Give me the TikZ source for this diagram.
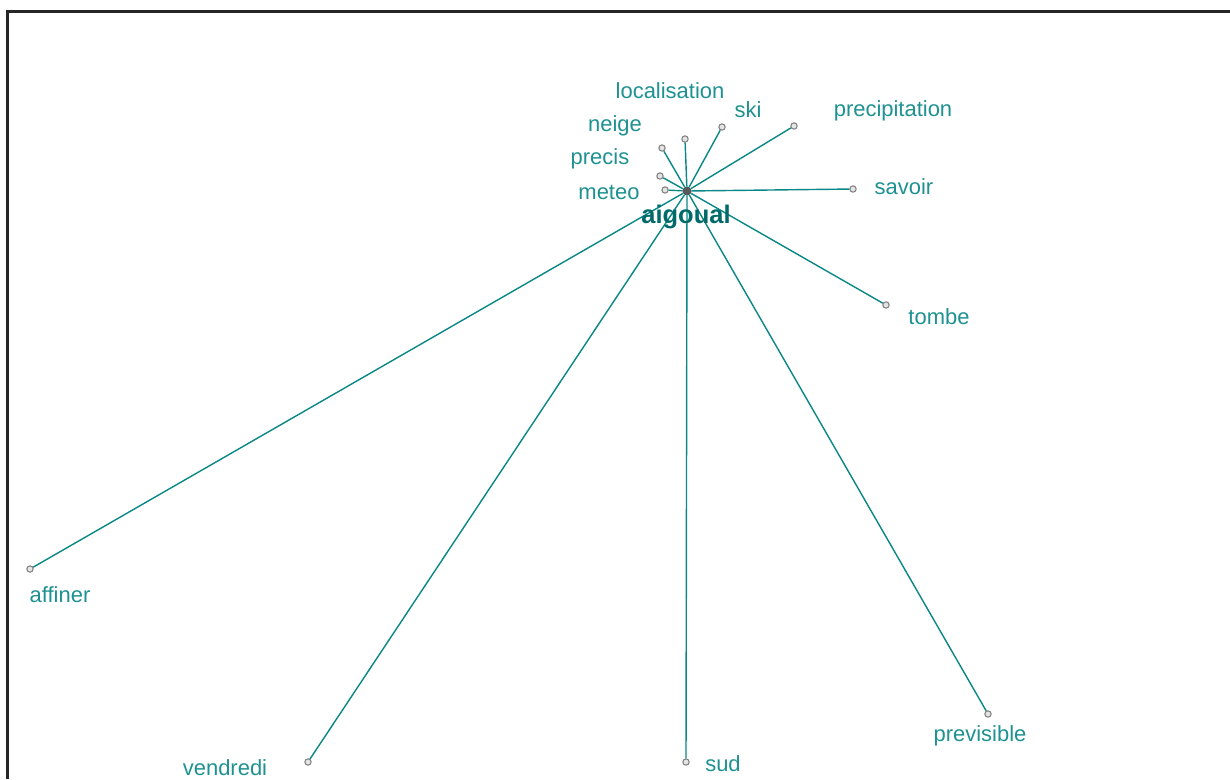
\documentclass[tikz,border=0pt]{standalone}
\usepackage{fontspec}
\setmainfont{Liberation Sans}
\definecolor{linkteal}{RGB}{10,135,135}
\definecolor{wordteal}{RGB}{30,145,145}
\definecolor{hubteal}{RGB}{0,105,105}

\begin{document}
\begin{tikzpicture}[
    x=0.02cm, y=-0.02cm,
    word/.style={
        text=wordteal,
        anchor=base,
        inner sep=0pt,
        font=\fontsize{12.5}{14}\selectfont
    },
    hubword/.style={
        text=hubteal,
        anchor=base,
        inner sep=0pt,
        font=\fontsize{14.5}{16}\selectfont\bfseries
    },
    leaf/.style={
        circle,
        draw=gray,
        fill=gray!20,
        line width=0.6pt,
        inner sep=0pt,
        minimum size=3.6pt
    },
    hub/.style={
        circle,
        draw=black!70,
        fill=black!65,
        inner sep=0pt,
        minimum size=4.6pt
    },
    link/.style={linkteal, line width=0.8pt}
]

\useasboundingbox (0,0) rectangle (1230,779);
\draw[black!85, line width=1.2pt] (7.5,779) -- (7.5,11.5) -- (1230,11.5);

% leaves
\node[leaf] (localisation) at (685,139) {};
\node[leaf] (ski) at (722,127) {};
\node[leaf] (precipitation) at (794,126) {};
\node[leaf] (neige) at (662,148) {};
\node[leaf] (precis) at (660,176) {};
\node[leaf] (meteo) at (665,190) {};
\node[leaf] (savoir) at (853,189) {};
\node[leaf] (tombe) at (886,305) {};
\node[leaf] (affiner) at (30,569) {};
\node[leaf] (vendredi) at (308,762) {};
\node[leaf] (sud) at (686,762) {};
\node[leaf] (previsible) at (988,714) {};

% hub
\node[hub] (aigoual) at (687,191) {};

\draw[link] (aigoual) -- (localisation);
\draw[link] (aigoual) -- (ski);
\draw[link] (aigoual) -- (precipitation);
\draw[link] (aigoual) -- (neige);
\draw[link] (aigoual) -- (precis);
\draw[link] (aigoual) -- (meteo);
\draw[link] (aigoual) -- (savoir);
\draw[link] (aigoual) -- (tombe);
\draw[link] (aigoual) -- (affiner);
\draw[link] (aigoual) -- (vendredi);
\draw[link] (aigoual) -- (sud);
\draw[link] (aigoual) -- (previsible);

% labels
\node[word] (localisation-txt) at (670,98) {localisation};
\node[word] (ski-txt) at (748,117) {ski};
\node[word] (precipitation-txt) at (893,116) {precipitation};
\node[word] (neige-txt) at (615,131) {neige};
\node[word] (precis-txt) at (600,164) {precis};
\node[word] (meteo-txt) at (609,199) {meteo};
\node[word] (savoir-txt) at (904,194) {savoir};
\node[word] (tombe-txt) at (939,324) {tombe};
\node[word] (affiner-txt) at (60,602) {affiner};
\node[word] (vendredi-txt) at (225,775) {vendredi};
\node[word] (sud-txt) at (723,771) {sud};
\node[word] (previsible-txt) at (980,741) {previsible};
\node[hubword] (aigoual-txt) at (686,223) {aigoual};

\end{tikzpicture}
\end{document}
